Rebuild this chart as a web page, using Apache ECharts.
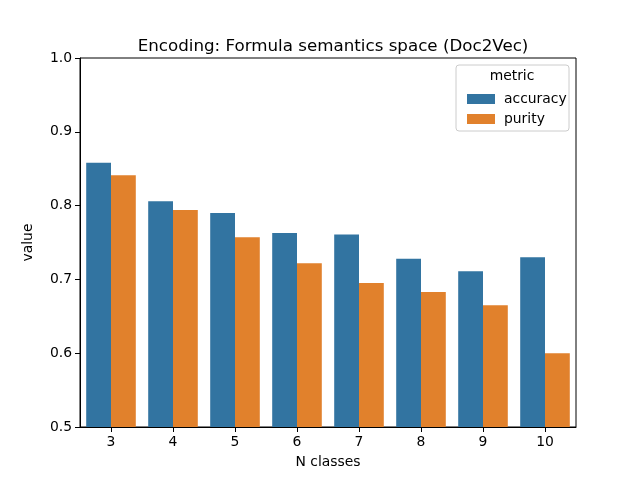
<!DOCTYPE html>
<html>
<head>
<meta charset="utf-8">
<script src="https://cdn.jsdelivr.net/npm/echarts@6/dist/echarts.min.js"></script>
<style>
  html, body { margin: 0; padding: 0; background: #fff; }
  #chart { width: 640px; height: 480px; }
</style>
</head>
<body>
<div id="chart"></div>
<script>
// data
var classes = ['3', '4', '5', '6', '7', '8', '9', '10'];
var accuracy = [0.858, 0.806, 0.790, 0.763, 0.761, 0.728, 0.711, 0.730];
var purity = [0.841, 0.794, 0.757, 0.722, 0.695, 0.683, 0.665, 0.600];
var yTicks = [0.5, 0.6, 0.7, 0.8, 0.9, 1.0];

var font = 'DejaVu Sans';
var fs = 13.9;
var chart = echarts.init(document.getElementById('chart'), null, { renderer: 'canvas' });

var option = {
    animation: false,
    backgroundColor: '#fff',
    textStyle: { fontFamily: font },
    title: {
        text: 'Encoding: Formula semantics space (Doc2Vec)',
        left: 328,
        top: 33,
        textAlign: 'center',
        textStyle: { fontFamily: font, fontSize: 16.7, fontWeight: 'normal', color: '#000' }
    },
    grid: {
        left: 80, right: 64, top: 58, bottom: 53,
        show: true, borderColor: '#000', borderWidth: 1, backgroundColor: 'transparent'
    },
    legend: {
        z: 20,
        orient: 'vertical',
        left: 462,
        top: 87,
        itemWidth: 28,
        itemHeight: 10,
        itemGap: 6,
        icon: 'rect',
        textStyle: { fontFamily: font, fontSize: fs, color: '#000', padding: [0, 0, 0, 4] },
        data: ['accuracy', 'purity']
    },
    graphic: [
        {
            type: 'rect', z: 5,
            shape: { x: 456, y: 65, width: 113, height: 66, r: 3 },
            style: { fill: 'rgba(255,255,255,0.8)', stroke: '#cccccc', lineWidth: 1 }
        },
        {
            type: 'text', z: 6,
            style: { x: 512, y: 76, text: 'metric', textAlign: 'center', textVerticalAlign: 'middle',
                     font: '13.9px "DejaVu Sans"', fill: '#000' }
        }
    ],
    xAxis: {
        type: 'category',
        data: classes,
        name: 'N classes',
        nameLocation: 'middle',
        nameGap: 28,
        nameTextStyle: { fontFamily: font, fontSize: fs, color: '#000' },
        axisLine: { show: true, lineStyle: { color: '#000', width: 1 } },
        axisTick: { show: true, alignWithLabel: true, length: 5, lineStyle: { color: '#000' } },
        axisLabel: { fontFamily: font, fontSize: fs, color: '#000', margin: 8 },
        splitLine: { show: false }
    },
    yAxis: {
        type: 'value',
        min: 0.5,
        max: 1.0,
        interval: 0.1,
        name: 'value',
        nameLocation: 'middle',
        nameGap: 45,
        nameTextStyle: { fontFamily: font, fontSize: fs, color: '#000' },
        axisLine: { show: true, lineStyle: { color: '#000', width: 1 } },
        axisTick: { show: true, length: 5, lineStyle: { color: '#000' } },
        axisLabel: {
            fontFamily: font, fontSize: fs, color: '#000', margin: 8,
            formatter: function (v) { return v.toFixed(1); }
        },
        splitLine: { show: false }
    },
    series: [
        {
            name: 'accuracy',
            type: 'bar',
            data: accuracy,
            barGap: '0%',
            barCategoryGap: '20%',
            itemStyle: { color: '#3274a1' }
        },
        {
            name: 'purity',
            type: 'bar',
            data: purity,
            barGap: '0%',
            barCategoryGap: '20%',
            itemStyle: { color: '#e1812c' }
        }
    ]
};

chart.setOption(option);
</script>
</body>
</html>
